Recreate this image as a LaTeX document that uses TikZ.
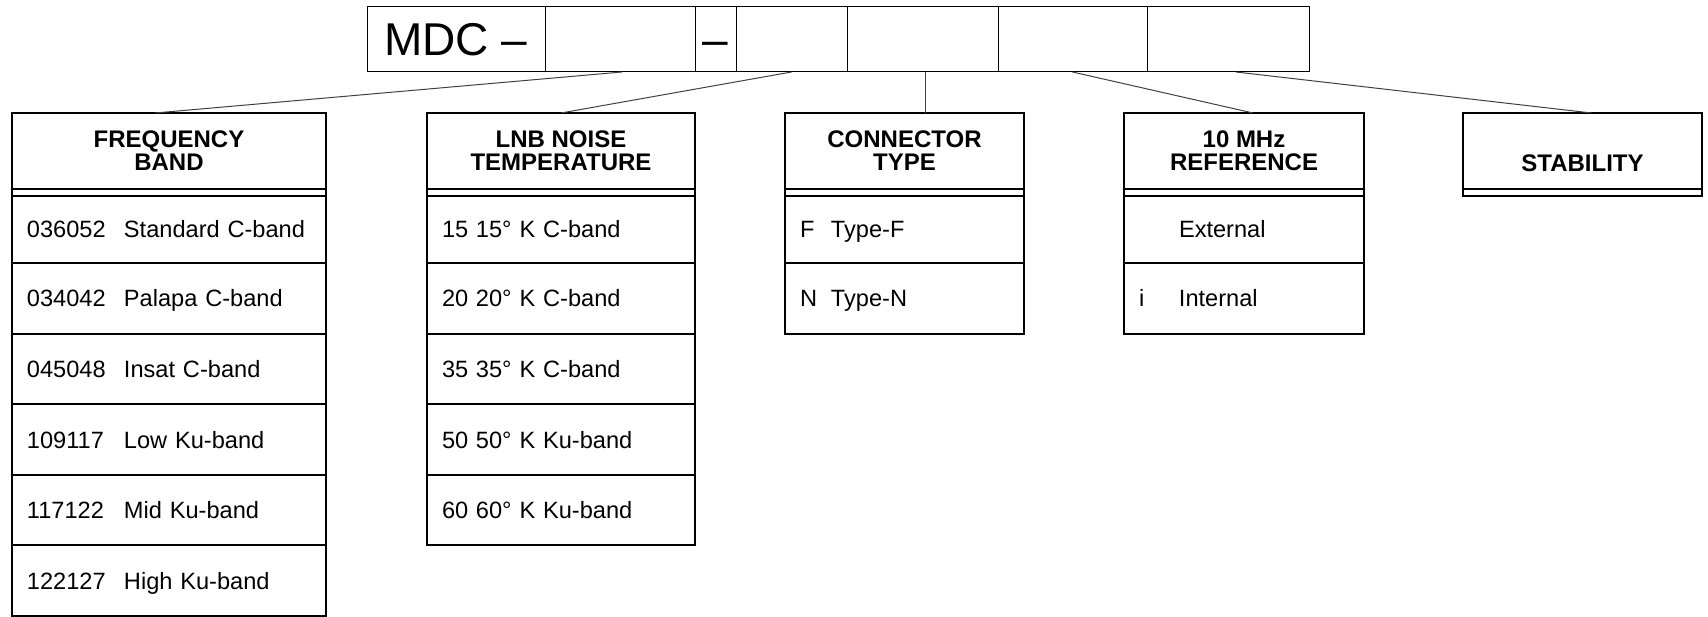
\documentclass[tikz,border=0pt]{standalone}
\usepackage{fontspec}
\setmainfont{Liberation Sans}
\usetikzlibrary{positioning}
\newcommand{\field}[3]{\makebox[#1][l]{#2}#3}

\begin{document}
\begin{tikzpicture}[x=1pt, y=-1pt,
    cell/.style={draw, line width=1pt, minimum height=65pt, inner sep=0pt, outer sep=0pt, text height=33pt, text depth=0pt, font=\fontsize{46}{54}\selectfont},
    head/.style={draw, line width=2pt, minimum height=76pt, inner sep=0pt, outer sep=0pt, align=center, text depth=0pt, font=\fontsize{24}{23}\selectfont\bfseries},
    band/.style={draw, line width=2pt, minimum height=7pt, inner sep=0pt, outer sep=0pt},
    row/.style={draw, line width=2pt, minimum height=70.6pt, inner xsep=15pt, inner ysep=0pt, outer sep=0pt, align=left, text height=22pt, text depth=5pt, font=\fontsize{23.6}{28}\selectfont},
    link/.style={line width=1pt, black!75}]
    \useasboundingbox (0,0) rectangle (1708,617);

    % part number
    \node[cell, minimum width=178pt, anchor=north west] (c1) at (367,7) {MDC –};
    \node[cell, minimum width=150pt, right=0pt of c1] (c2) {};
    \node[cell, minimum width=41pt, right=0pt of c2] (c3) {–};
    \node[cell, minimum width=111pt, right=0pt of c3] (c4) {};
    \node[cell, minimum width=151pt, right=0pt of c4] (c5) {};
    \node[cell, minimum width=149pt, right=0pt of c5] (c6) {};
    \node[cell, minimum width=162pt, right=0pt of c6] (c7) {};

    % frequency band
    \node[head, minimum width=314pt, anchor=north west] (freq) at (12,113) {FREQUENCY\\BAND};
    \node[band, minimum width=314pt, below=0pt of freq] (fband) {};
    \node[row, text width=284pt, minimum height=67pt, below=0pt of fband] (f1) {\field{97pt}{036052}{Standard C-band}};
    \node[row, text width=284pt, below=0pt of f1] (f2) {\field{97pt}{034042}{Palapa C-band}};
    \node[row, text width=284pt, below=0pt of f2] (f3) {\field{97pt}{045048}{Insat C-band}};
    \node[row, text width=284pt, below=0pt of f3] (f4) {\field{97pt}{109117}{Low Ku-band}};
    \node[row, text width=284pt, below=0pt of f4] (f5) {\field{97pt}{117122}{Mid Ku-band}};
    \node[row, text width=284pt, below=0pt of f5] (f6) {\field{97pt}{122127}{High Ku-band}};

    % noise temperature
    \node[head, minimum width=268pt, anchor=north west] (lnb) at (427,113) {LNB NOISE\\TEMPERATURE};
    \node[band, minimum width=268pt, below=0pt of lnb] (lband) {};
    \node[row, text width=238pt, minimum height=67pt, below=0pt of lband] (l1) {\field{34pt}{15}{15° K C-band}};
    \node[row, text width=238pt, below=0pt of l1] (l2) {\field{34pt}{20}{20° K C-band}};
    \node[row, text width=238pt, below=0pt of l2] (l3) {\field{34pt}{35}{35° K C-band}};
    \node[row, text width=238pt, below=0pt of l3] (l4) {\field{34pt}{50}{50° K Ku-band}};
    \node[row, text width=238pt, below=0pt of l4] (l5) {\field{34pt}{60}{60° K Ku-band}};

    % connector
    \node[head, minimum width=239pt, anchor=north west] (conn) at (785,113) {CONNECTOR\\TYPE};
    \node[band, minimum width=239pt, below=0pt of conn] (cband) {};
    \node[row, text width=209pt, minimum height=67pt, below=0pt of cband] (k1) {\field{31pt}{F}{Type-F}};
    \node[row, text width=209pt, below=0pt of k1] (k2) {\field{31pt}{N}{Type-N}};

    % reference
    \node[head, minimum width=240pt, anchor=north west] (ref) at (1124,113) {10 MHz\\REFERENCE};
    \node[band, minimum width=240pt, below=0pt of ref] (rband) {};
    \node[row, text width=210pt, minimum height=67pt, below=0pt of rband] (r1) {\field{40pt}{}{External}};
    \node[row, text width=210pt, below=0pt of r1] (r2) {\field{40pt}{i}{Internal}};

    % stability
    \node[head, minimum width=239pt, text height=41pt, anchor=north west] (stab) at (1463,113) {STABILITY};
    \node[band, minimum width=239pt, below=0pt of stab] (sband) {};

    \draw[link] ([xshift=2pt]c2.south) -- ([xshift=-14pt]freq.north);
    \draw[link] (c4.south) -- (lnb.north);
    \draw[link] ([xshift=3pt]c5.south) -- ([xshift=3pt]c5.south |- conn.north);
    \draw[link] (c6.south) -- ([xshift=9pt]ref.north);
    \draw[link] ([xshift=8pt]c7.south) -- ([xshift=9pt]stab.north);
\end{tikzpicture}
\end{document}
